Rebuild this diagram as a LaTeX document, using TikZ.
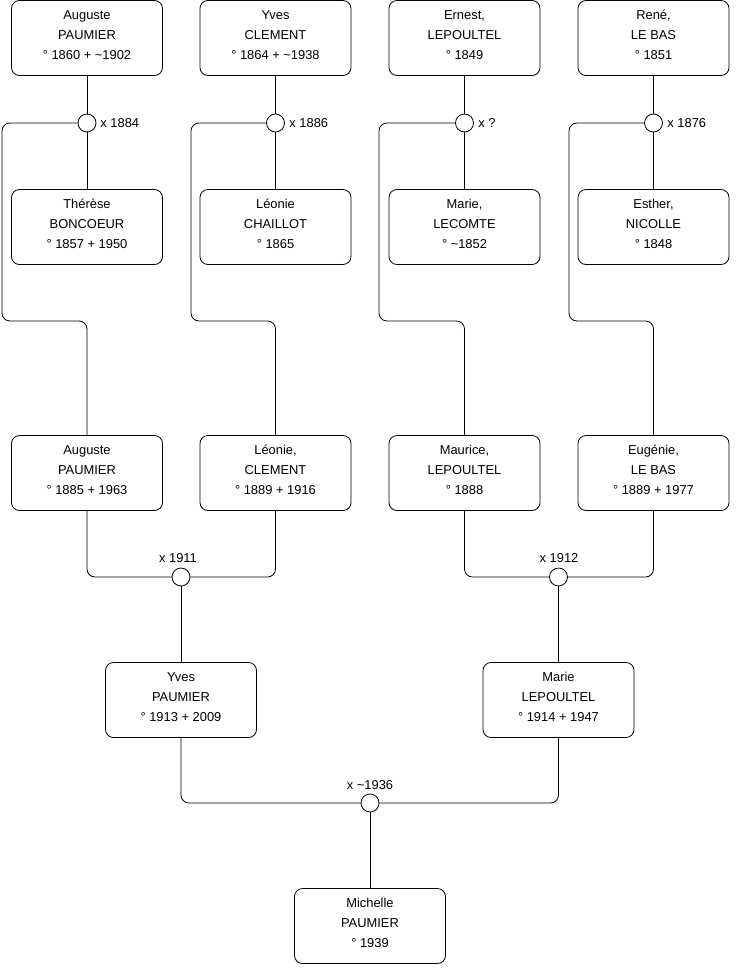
\documentclass[tikz,border=0pt]{standalone}
\usepackage{fontspec}
\setmainfont{Liberation Sans}
\begin{document}
\begin{tikzpicture}[
	x=1pt, y=-1pt, line width=0.8pt,
	person/.style={ draw, rounded corners=8pt, minimum width=151pt, minimum height=75pt, align=center, inner sep=0pt, text depth=6pt, font=\fontsize{12.9}{20}\selectfont },
	wed/.style={ circle, draw, fill=white, inner sep=0pt, minimum size=18pt },
	wedlabel/.style={ inner sep=0pt, font=\fontsize{12.9}{14}\selectfont },
	link/.style={ rounded corners=8pt }
]

\useasboundingbox (0,0) rectangle (740,975);

\node[person] at (87,38) (a1) {Auguste\\PAUMIER\\° 1860 + \textasciitilde1902};
\node[person] at (275.5,38) (a2) {Yves\\CLEMENT\\° 1864 + \textasciitilde1938};
\node[person] at (464.5,38) (a3) {Ernest,\\LEPOULTEL\\° 1849};
\node[person] at (653.5,38) (a4) {René,\\LE BAS\\° 1851};

\node[wed] at (87,123) (m1) {};
\node[wed] at (275.5,123) (m2) {};
\node[wed] at (464.5,123) (m3) {};
\node[wed] at (653.5,123) (m4) {};
\node[wedlabel, anchor=west] at (100,123) (t1) {x 1884};
\node[wedlabel, anchor=west] at (289,123) (t2) {x 1886};
\node[wedlabel, anchor=west] at (478,123) (t3) {x ?};
\node[wedlabel, anchor=west] at (667,123) (t4) {x 1876};

\node[person] at (87,227) (b1) {Thérèse\\BONCOEUR\\° 1857 + 1950};
\node[person] at (275.5,227) (b2) {Léonie\\CHAILLOT\\° 1865};
\node[person] at (464.5,227) (b3) {Marie,\\LECOMTE\\° \textasciitilde1852};
\node[person] at (653.5,227) (b4) {Esther,\\NICOLLE\\° 1848};

\node[person] at (87,473) (c1) {Auguste\\PAUMIER\\° 1885 + 1963};
\node[person] at (275.5,473) (c2) {Léonie,\\CLEMENT\\° 1889 + 1916};
\node[person] at (464.5,473) (c3) {Maurice,\\LEPOULTEL\\° 1888};
\node[person] at (653.5,473) (c4) {Eugénie,\\LE BAS\\° 1889 + 1977};

\coordinate (k1) at (2,321);
\coordinate (k2) at (191,321);
\coordinate (k3) at (379,321);
\coordinate (k4) at (569,321);

\draw (a1) to (m1) to (b1);
\draw (a2) to (m2) to (b2);
\draw (a3) to (m3) to (b3);
\draw (a4) to (m4) to (b4);
\draw[link] (m1.west) -| (k1) -| (c1.north);
\draw[link] (m2.west) -| (k2) -| (c2.north);
\draw[link] (m3.west) -| (k3) -| (c3.north);
\draw[link] (m4.west) -| (k4) -| (c4.north);

\node[wed] at (181,577) (m5) {};
\node[wed] at (558.5,577) (m6) {};
\node[wedlabel] at (178,558) (t5) {x 1911};
\node[wedlabel] at (559,558) (t6) {x 1912};
\draw[link] (c1.south) |- (m5.west);
\draw[link] (c2.south) |- (m5.east);
\draw[link] (c3.south) |- (m6.west);
\draw[link] (c4.south) |- (m6.east);

\node[person] at (181,700) (d1) {Yves\\PAUMIER\\° 1913 + 2009};
\node[person] at (558.5,700) (d2) {Marie\\LEPOULTEL\\° 1914 + 1947};
\draw (m5) to (d1);
\draw (m6) to (d2);

\node[wed] at (370,803) (m7) {};
\node[wedlabel] at (370,785) (t7) {x \textasciitilde1936};
\draw[link] (d1.south) |- (m7.west);
\draw[link] (d2.south) |- (m7.east);

\node[person] at (370,926) (e1) {Michelle\\PAUMIER\\° 1939};
\draw (m7) to (e1);

\end{tikzpicture}
\end{document}
